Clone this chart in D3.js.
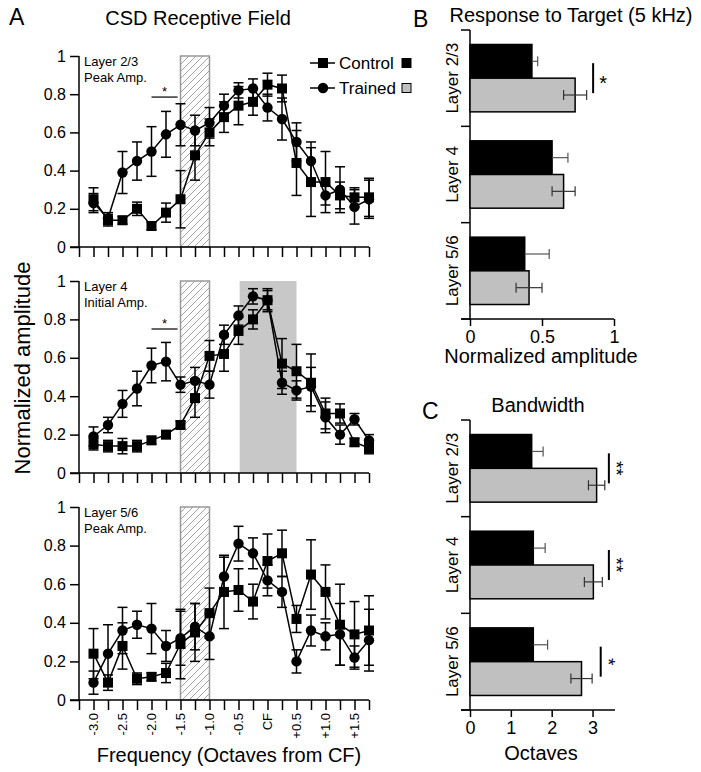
<!DOCTYPE html>
<html>
<head>
<meta charset="utf-8">
<script src="https://d3js.org/d3.v7.min.js"></script>
<style>
  body { margin: 0; background: #fff; }
  text { font-family: Arial, "Liberation Sans", sans-serif; fill: #000; }
</style>
</head>
<body>
<div id="fig"></div>
<script>
// ---- data ----
var octaves = [-3.0, -2.75, -2.5, -2.25, -2.0, -1.75, -1.5, -1.25, -1.0, -0.75,
               -0.5, -0.25, 0, 0.25, 0.5, 0.75, 1.0, 1.25, 1.5, 1.75];
var tickValues = [-3.25, -3.0, -2.75, -2.5, -2.25, -2.0, -1.75, -1.5, -1.25, -1.0, -0.75,
                  -0.5, -0.25, 0, 0.25, 0.5, 0.75, 1.0, 1.25, 1.5, 1.75];
var tickLabelPos = [-3.0, -2.5, -2.0, -1.5, -1.0, -0.5, 0, 0.5, 1.0, 1.5];
var tickLabels = ["-3.0", "-2.5", "-2.0", "-1.5", "-1.0", "-0.5", "CF", "+0.5", "+1.0", "+1.5"];
var yTicks = [0, 0.2, 0.4, 0.6, 0.8, 1];

// Layer 2/3 peak amplitude
var ctrl23    = [0.25, 0.14, 0.14, 0.20, 0.11, 0.18, 0.25, 0.48, 0.60, 0.68, 0.74, 0.76, 0.85, 0.83, 0.44, 0.34, 0.34, 0.27, 0.26, 0.26];
var ctrl23Err = [0.06, 0.03, 0.02, 0.035, 0.02, 0.05, 0.15, 0.13, 0.07, 0.08, 0.10, 0.07, 0.06, 0.07, 0.17, 0.18, 0.16, 0.07, 0.05, 0.10];
var trn23     = [0.23, 0.15, 0.39, 0.45, 0.50, 0.59, 0.64, 0.61, 0.65, 0.74, 0.82, 0.83, 0.73, 0.67, 0.55, 0.45, 0.27, 0.30, 0.21, 0.25];
var trn23Err  = [0.05, 0.03, 0.11, 0.10, 0.13, 0.12, 0.11, 0.08, 0.08, 0.06, 0.04, 0.05, 0.07, 0.11, 0.10, 0.10, 0.05, 0.12, 0.09, 0.10];

// Layer 4 initial amplitude
var ctrl4     = [0.15, 0.14, 0.14, 0.14, 0.17, 0.20, 0.25, 0.39, 0.61, 0.62, 0.74, 0.80, 0.90, 0.57, 0.53, 0.47, 0.31, 0.31, 0.16, 0.13];
var ctrl4Err  = [0.03, 0.03, 0.04, 0.03, 0.02, 0.02, 0.02, 0.10, 0.08, 0.09, 0.07, 0.05, 0.06, 0.13, 0.14, 0.15, 0.08, 0.05, 0.02, 0.03];
var trn4      = [0.19, 0.25, 0.36, 0.44, 0.56, 0.58, 0.46, 0.48, 0.46, 0.72, 0.82, 0.92, 0.90, 0.47, 0.43, 0.45, 0.29, 0.20, 0.28, 0.17];
var trn4Err   = [0.05, 0.04, 0.07, 0.09, 0.09, 0.10, 0.04, 0.07, 0.07, 0.05, 0.05, 0.04, 0.05, 0.06, 0.05, 0.10, 0.08, 0.05, 0.03, 0.03];

// Layer 5/6 peak amplitude
var ctrl56    = [0.24, 0.09, 0.28, 0.11, 0.12, 0.14, 0.29, 0.35, 0.45, 0.56, 0.57, 0.51, 0.72, 0.76, 0.42, 0.65, 0.56, 0.39, 0.34, 0.36];
var ctrl56Err = [0.13, 0.04, 0.12, 0.03, 0.02, 0.05, 0.18, 0.15, 0.13, 0.19, 0.11, 0.09, 0.14, 0.12, 0.07, 0.18, 0.14, 0.21, 0.17, 0.18];
var trn56     = [0.09, 0.24, 0.36, 0.39, 0.37, 0.28, 0.32, 0.38, 0.33, 0.64, 0.81, 0.76, 0.62, 0.56, 0.20, 0.36, 0.33, 0.34, 0.22, 0.31];
var trn56Err  = [0.06, 0.15, 0.12, 0.07, 0.13, 0.08, 0.14, 0.12, 0.12, 0.10, 0.09, 0.08, 0.08, 0.08, 0.06, 0.08, 0.07, 0.16, 0.06, 0.16];

var hatchRange = [-1.5, -1.0];
var shadeRange = [-0.48, 0.5];
var sigRange = [-2.0, -1.55];

// panels B and C
var layers = ["Layer 2/3", "Layer 4", "Layer 5/6"];
var targetCtrl    = [0.43, 0.57, 0.38];
var targetCtrlErr = [0.04, 0.11, 0.17];
var targetTrn     = [0.73, 0.65, 0.41];
var targetTrnErr  = [0.08, 0.08, 0.09];
var bwCtrl    = [1.51, 1.55, 1.55];
var bwCtrlErr = [0.28, 0.29, 0.35];
var bwTrn     = [3.10, 3.02, 2.73];
var bwTrnErr  = [0.20, 0.22, 0.26];

// ---- drawing ----
var svg = d3.select("#fig").append("svg")
  .attr("width", 701).attr("height", 772);

var defs = svg.append("defs");
var pat = defs.append("pattern")
  .attr("id", "hatch")
  .attr("patternUnits", "userSpaceOnUse")
  .attr("width", 7).attr("height", 7);
pat.append("path")
  .attr("d", "M-1,1 l2,-2 M0,7 l7,-7 M6,8 l2,-2")
  .attr("stroke", "#999").attr("stroke-width", 0.9);

var x = d3.scaleLinear().domain([-3.25, 1.75]).range([79, 369]);

function tuningPanel(top, bottom, ctrl, ctrlErr, trn, trnErr, label1, label2, opts) {
  var y = d3.scaleLinear().domain([0, 1]).range([bottom, top]);
  var g = svg.append("g");

  if (opts.shade) {
    g.append("rect")
      .attr("x", x(shadeRange[0])).attr("y", y(1))
      .attr("width", x(shadeRange[1]) - x(shadeRange[0]))
      .attr("height", y(0) - y(1))
      .attr("fill", "#c8c8c8");
  }
  g.append("rect")
    .attr("x", x(hatchRange[0])).attr("y", y(1))
    .attr("width", x(hatchRange[1]) - x(hatchRange[0]))
    .attr("height", y(0) - y(1))
    .attr("fill", "url(#hatch)")
    .attr("stroke", "#999").attr("stroke-width", 1.5);

  // axes
  var yAx = g.append("g").attr("transform", "translate(79,0)")
    .call(d3.axisLeft(y).tickValues(yTicks).tickSize(9).tickPadding(4)
      .tickFormat(function(d) { return d === 0 || d === 1 ? d : d3.format(".1f")(d); }));
  yAx.select(".domain").attr("stroke-width", 1.5).attr("d", "M0," + y(0) + "V" + y(1));
  yAx.selectAll(".tick line").attr("stroke-width", 1.5);
  yAx.selectAll("text").style("font-size", "16px").style("font-family", "Arial, 'Liberation Sans', sans-serif");

  var xAx = g.append("g").attr("transform", "translate(0," + y(0) + ")")
    .call(d3.axisBottom(x).tickValues(tickValues).tickSize(10).tickFormat(""));
  xAx.select(".domain").attr("stroke-width", 1.5).attr("d", "M70,0H" + x(1.75));
  xAx.selectAll(".tick line").attr("stroke-width", 1.5);

  if (opts.labels) {
    g.selectAll(".xlab").data(tickLabelPos).enter().append("text")
      .attr("transform", function(d) { return "translate(" + (x(d) + 4.5) + "," + (y(0) + 13) + ") rotate(-90)"; })
      .attr("text-anchor", "end")
      .style("font-size", "13px")
      .text(function(d, i) { return tickLabels[i]; });
  }

  // panel labels
  g.append("text").attr("x", 84).attr("y", top + 10).style("font-size", "13px").text(label1);
  g.append("text").attr("x", 84).attr("y", top + 26).style("font-size", "13px").text(label2);

  // significance
  if (opts.sig) {
    g.append("line")
      .attr("x1", x(sigRange[0])).attr("x2", x(sigRange[1]))
      .attr("y1", y(opts.sig)).attr("y2", y(opts.sig))
      .attr("stroke", "#000").attr("stroke-width", 1.2);
    g.append("text")
      .attr("x", (x(sigRange[0]) + x(sigRange[1])) / 2).attr("y", y(opts.sig) - 1)
      .attr("text-anchor", "middle").style("font-size", "13px").text("*");
  }

  var line = d3.line().x(function(d, i) { return x(octaves[i]); }).y(function(d) { return y(d); });

  function errBars(vals, errs) {
    var eb = g.append("g").attr("stroke", "#000").attr("stroke-width", 1.5);
    vals.forEach(function(v, i) {
      var cx = x(octaves[i]);
      var lo = y(Math.max(0, v - errs[i])), hi = y(v + errs[i]);
      eb.append("line").attr("x1", cx).attr("x2", cx).attr("y1", lo).attr("y2", hi);
      eb.append("line").attr("x1", cx - 5).attr("x2", cx + 5).attr("y1", lo).attr("y2", lo);
      eb.append("line").attr("x1", cx - 5).attr("x2", cx + 5).attr("y1", hi).attr("y2", hi);
    });
  }
  errBars(trn, trnErr);
  errBars(ctrl, ctrlErr);

  g.append("path").datum(trn).attr("d", line)
    .attr("fill", "none").attr("stroke", "#000").attr("stroke-width", 1.5);
  g.append("path").datum(ctrl).attr("d", line)
    .attr("fill", "none").attr("stroke", "#000").attr("stroke-width", 1.5);

  g.selectAll(".trn").data(trn).enter().append("circle")
    .attr("cx", function(d, i) { return x(octaves[i]); })
    .attr("cy", function(d) { return y(d); })
    .attr("r", 5.2).attr("fill", "#000");
  g.selectAll(".ctrl").data(ctrl).enter().append("rect")
    .attr("x", function(d, i) { return x(octaves[i]) - 5; })
    .attr("y", function(d) { return y(d) - 5; })
    .attr("width", 10).attr("height", 10).attr("fill", "#000");
}

tuningPanel(56, 247, ctrl23, ctrl23Err, trn23, trn23Err, "Layer 2/3", "Peak Amp.", { sig: 0.785 });
tuningPanel(281, 473, ctrl4, ctrl4Err, trn4, trn4Err, "Layer 4", "Initial Amp.", { sig: 0.75, shade: true });
tuningPanel(507, 700, ctrl56, ctrl56Err, trn56, trn56Err, "Layer 5/6", "Peak Amp.", { labels: true });

// panel A titles
svg.append("text").attr("x", 9).attr("y", 25).style("font-size", "23px").text("A");
svg.append("text").attr("x", 198).attr("y", 25).attr("text-anchor", "middle").style("font-size", "20px").text("CSD Receptive Field");
svg.append("text").attr("transform", "translate(30,368) rotate(-90)").attr("text-anchor", "middle")
  .style("font-size", "22px").text("Normalized amplitude");
svg.append("text").attr("x", 229).attr("y", 762).attr("text-anchor", "middle")
  .style("font-size", "20px").text("Frequency (Octaves from CF)");

// legend
var leg = svg.append("g");
[["Control", "sq", "#000", 63], ["Trained", "ci", "#c0c0c0", 88]].forEach(function(l) {
  leg.append("line").attr("x1", 310).attr("x2", 335).attr("y1", l[3]).attr("y2", l[3])
    .attr("stroke", "#000").attr("stroke-width", 1.5);
  if (l[1] === "sq") {
    leg.append("rect").attr("x", 318).attr("y", l[3] - 5).attr("width", 10).attr("height", 10).attr("fill", "#000");
  } else {
    leg.append("circle").attr("cx", 323).attr("cy", l[3]).attr("r", 5.2).attr("fill", "#000");
  }
  leg.append("text").attr("x", 339).attr("y", l[3] + 6).style("font-size", "17px").text(l[0]);
  leg.append("rect").attr("x", 402).attr("y", l[3] - 4.5).attr("width", 9).attr("height", 9)
    .attr("fill", l[2]).attr("stroke", "#000").attr("stroke-width", 1);
});

// ---- horizontal bar panels ----
function barPanel(top, bottom, xMax, ticks, xRight, ctrl, ctrlErr, trn, trnErr, title, titleX, xTitle, xTitleDy, sigs, rotateSig) {
  var xs = d3.scaleLinear().domain([0, xMax]).range([470, xRight]);
  var yb = d3.scaleBand().domain(layers).range([top, bottom]);
  var inner = d3.scaleBand().domain(["c", "t"]).range([0, yb.bandwidth()]).paddingOuter(0.43);
  var g = svg.append("g");

  g.append("line").attr("x1", 470).attr("x2", 470).attr("y1", top).attr("y2", bottom)
    .attr("stroke", "#000").attr("stroke-width", 1.5);
  var bounds = [top].concat(layers.map(function(l) { return yb(l) + yb.bandwidth(); }));
  g.selectAll(".bt").data(bounds).enter().append("line")
    .attr("x1", 461).attr("x2", 470)
    .attr("y1", function(d) { return d; }).attr("y2", function(d) { return d; })
    .attr("stroke", "#000").attr("stroke-width", 1.5);

  var xAx = g.append("g").attr("transform", "translate(0," + bottom + ")")
    .call(d3.axisBottom(xs).tickValues(ticks).tickSize(7).tickPadding(4).tickFormat(d3.format("~g")));
  xAx.select(".domain").attr("stroke-width", 1.5).attr("d", "M461,0H" + xRight);
  xAx.selectAll(".tick line").attr("stroke-width", 1.5);
  xAx.selectAll("text").style("font-size", "18px").style("font-family", "Arial, 'Liberation Sans', sans-serif");

  g.selectAll(".lab").data(layers).enter().append("text")
    .attr("transform", function(d) { return "translate(458," + (yb(d) + yb.bandwidth() / 2) + ") rotate(-90)"; })
    .attr("text-anchor", "middle").style("font-size", "17px").text(function(d) { return d; });

  function bars(vals, errs, key, fill, errColor, both) {
    layers.forEach(function(l, i) {
      var yy = yb(l) + inner(key), h = inner.bandwidth();
      g.append("rect").attr("x", xs(0)).attr("y", yy)
        .attr("width", xs(vals[i]) - xs(0)).attr("height", h)
        .attr("fill", fill).attr("stroke", "#000").attr("stroke-width", 1.5);
      var cy = yy + h / 2;
      var x0 = both ? xs(vals[i] - errs[i]) : xs(vals[i]);
      var x1 = xs(vals[i] + errs[i]);
      g.append("line").attr("x1", x0).attr("x2", x1).attr("y1", cy).attr("y2", cy)
        .attr("stroke", errColor).attr("stroke-width", 1.2);
      g.append("line").attr("x1", x1).attr("x2", x1).attr("y1", cy - 5).attr("y2", cy + 5)
        .attr("stroke", errColor).attr("stroke-width", 1.2);
      if (both) {
        g.append("line").attr("x1", x0).attr("x2", x0).attr("y1", cy - 5).attr("y2", cy + 5)
          .attr("stroke", errColor).attr("stroke-width", 1.2);
      }
    });
  }
  bars(ctrl, ctrlErr, "c", "#000", "#555", false);
  bars(trn, trnErr, "t", "#c0c0c0", "#333", true);

  sigs.forEach(function(s) {
    var l = s[0], mid = yb(l) + yb.bandwidth() / 2;
    var lx = xs(s[1]);
    g.append("line").attr("x1", lx).attr("x2", lx).attr("y1", mid - 15).attr("y2", mid + 15)
      .attr("stroke", "#000").attr("stroke-width", 2);
    if (rotateSig) {
      g.append("text").attr("transform", "translate(" + (lx + 1) + "," + mid + ") rotate(90)")
        .attr("text-anchor", "middle").style("font-size", "19px").text(s[2]);
    } else {
      g.append("text").attr("x", lx + 10).attr("y", mid + 12)
        .attr("text-anchor", "middle").style("font-size", "20px").text(s[2]);
    }
  });

  g.append("text").attr("x", titleX).attr("y", top - 8).attr("text-anchor", "middle")
    .style("font-size", "20px").text(title);
  g.append("text").attr("x", 541).attr("y", bottom + xTitleDy).attr("text-anchor", "middle")
    .style("font-size", "20px").text(xTitle);
}

barPanel(30, 319, 1, [0, 0.5, 1], 614, targetCtrl, targetCtrlErr, targetTrn, targetTrnErr,
  "Response to Target (5 kHz)", 571, "Normalized amplitude", 44, [["Layer 2/3", 0.855, "*"]], false);
barPanel(420, 710, 3.55, [0, 1, 2, 3], 615, bwCtrl, bwCtrlErr, bwTrn, bwTrnErr,
  "Bandwidth", 538, "Octaves", 50, [["Layer 2/3", 3.4, "**"], ["Layer 4", 3.4, "**"], ["Layer 5/6", 3.2, "*"]], true);

svg.append("text").attr("x", 413).attr("y", 27).style("font-size", "23px").text("B");
svg.append("text").attr("x", 422).attr("y", 419).style("font-size", "23px").text("C");
</script>
</body>
</html>
